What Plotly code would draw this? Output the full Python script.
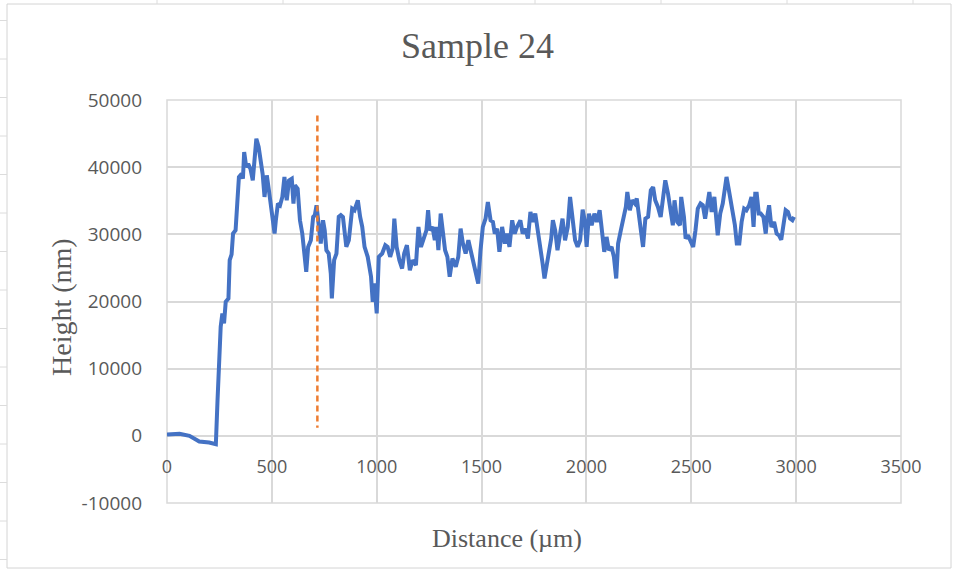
import plotly.graph_objects as go

# ---- data ----
distance_um = [0, 30, 60, 107, 154, 201, 233, 241, 256, 264, 272, 280, 293, 299, 308, 315, 327, 335, 343,
               356, 362, 368, 378, 387, 398, 409, 418, 426, 437, 445, 456, 465, 476, 487, 500, 513, 519,
               529, 539, 550, 560, 571, 582, 595, 603, 610, 623, 634, 645, 657, 664, 673, 686, 697, 705,
               713, 724, 733, 744, 752, 760, 771, 781, 786, 797, 808, 819, 829, 839, 855, 867, 883, 894,
               910, 921, 931, 942, 957, 973, 981, 989, 1000, 1010, 1026, 1041, 1052, 1064, 1076, 1084,
               1095, 1108, 1121, 1131, 1144, 1158, 1171, 1187, 1199, 1211, 1226, 1237, 1245, 1253, 1266,
               1277, 1286, 1294, 1305, 1316, 1326, 1337, 1348, 1361, 1377, 1389, 1400, 1411, 1424, 1437,
               1448, 1464, 1474, 1484, 1495, 1506, 1519, 1530, 1543, 1554, 1563, 1574, 1585, 1598, 1611,
               1622, 1633, 1646, 1658, 1669, 1685, 1696, 1709, 1721, 1733, 1745, 1756, 1769, 1780, 1791,
               1800, 1811, 1823, 1832, 1840, 1851, 1862, 1875, 1886, 1898, 1911, 1922, 1933, 1946, 1958,
               1970, 1982, 1993, 2001, 2012, 2025, 2038, 2050, 2063, 2072, 2085, 2096, 2107, 2120, 2131,
               2142, 2151, 2164, 2176, 2188, 2195, 2207, 2218, 2231, 2240, 2250, 2259, 2270, 2281, 2294,
               2307, 2318, 2328, 2341, 2354, 2365, 2376, 2389, 2401, 2412, 2420, 2433, 2446, 2452, 2465,
               2473, 2484, 2496, 2509, 2520, 2531, 2544, 2555, 2566, 2575, 2586, 2597, 2610, 2626, 2638,
               2650, 2658, 2668, 2678, 2689, 2700, 2708, 2717, 2729, 2740, 2752, 2763, 2776, 2787, 2797,
               2805, 2812, 2822, 2831, 2844, 2855, 2863, 2871, 2882, 2895, 2907, 2918, 2929, 2939, 2950,
               2961, 2971, 2982, 2990]
height_nm = [200, 250, 300, 0, -840, -1000, -1250, 5350, 16240, 18230, 16740, 19960, 20460, 26150, 27000,
             30120, 30600, 34580, 38540, 39030, 38280, 42250, 40000, 40500, 39750, 38030, 42500, 44230,
             43000, 41500, 39000, 35570, 38780, 36300, 33090, 30120, 32100, 34580, 34330, 35570, 38540,
             35080, 38030, 38280, 34580, 37290, 36800, 32100, 30120, 26150, 24420, 28130, 29120, 32600,
             32850, 34330, 31100, 28620, 32100, 30600, 27640, 27140, 24170, 20460, 26150, 27140, 32600,
             32850, 32590, 28130, 29130, 33830, 33590, 35070, 32590, 31100, 28130, 26650, 23680, 19960,
             22680, 18230, 26650, 27140, 28380, 28130, 26650, 27890, 32340, 28130, 26150, 24910, 27140,
             28380, 24660, 26150, 25420, 31100, 28130, 29610, 30600, 33590, 30600, 31100, 29120, 31100,
             27640, 33090, 29610, 27640, 26650, 23680, 26400, 25170, 26650, 30850, 28620, 27140, 29120,
             27640, 25660, 24170, 22680, 27640, 31100, 32340, 34820, 32090, 31840, 30100, 30850, 27390,
             31100, 28620, 30100, 28130, 32090, 30100, 31100, 32090, 30100, 30850, 29370, 33330, 31840,
             33090, 30600, 28130, 25660, 23430, 25420, 27640, 29370, 32090, 30600, 27640, 30600, 32340,
             29120, 31100, 35570, 32590, 29120, 28130, 29120, 33680, 31840, 28130, 33090, 31350, 33090,
             31840, 33590, 31100, 27390, 29610, 27640, 28130, 26650, 23430, 28620, 30600, 32590, 34080,
             36300, 33590, 35070, 34580, 35330, 32590, 30350, 28130, 32340, 32590, 36550, 37040, 35070,
             34080, 32590, 36050, 38040, 36050, 33590, 31350, 35070, 31840, 31350, 35570, 32590, 29370,
             29860, 29120, 28130, 30600, 33830, 34580, 34330, 32340, 34580, 36300, 33330, 35570, 29870,
             33090, 34580, 36550, 38540, 36800, 34580, 33330, 31350, 28620, 28620, 31840, 33830, 33590,
             34330, 35570, 31100, 36050, 36050, 33090, 33090, 32590, 30100, 32840, 34330, 31100, 31840,
             30100, 29860, 29200, 31600, 33590, 33330, 32340, 32090, 32590]
marker_x = [717, 717]
marker_y = [47700, 1200]

x_ticks = [0, 500, 1000, 1500, 2000, 2500, 3000, 3500]
x_tick_labels = ["0", "500", "1000", "1500", "2000", "2500", "3000", "3500"]
y_ticks = [-10000, 0, 10000, 20000, 30000, 40000, 50000]
y_tick_labels = ["-10000", "0", "10000", "20000", "30000", "40000", "50000"]

# ---- layout helpers (pixel -> paper) ----
W, H = 955, 572
L, R, T, B = 167, 54, 100, 69
PW, PH = W - L - R, H - T - B


def px(x):
    return (x - L) / PW


def py(y):
    return (H - B - y) / PH


GRID = "#d9d9d9"
TXT = "#595959"

fig = go.Figure()
fig.add_trace(go.Scatter(x=distance_um, y=height_nm, mode="lines",
                         line=dict(color="#4472C4", width=4), showlegend=False))
fig.add_trace(go.Scatter(x=marker_x, y=marker_y, mode="lines",
                         line=dict(color="#ED7D31", width=2.5, dash="6px,4px"), showlegend=False))

shapes = [dict(type="rect", xref="paper", yref="paper", x0=px(7), x1=px(951), y0=py(4), y1=py(568),
               line=dict(color="#d4d4d4", width=1), layer="below"),
          dict(type="rect", xref="paper", yref="paper", x0=0, x1=1, y0=0, y1=1,
               line=dict(color=GRID, width=1.5), layer="below")]
for cx in [157, 283, 409, 535, 661, 787, 913]:
    shapes.append(dict(type="line", xref="paper", yref="paper", x0=px(cx), x1=px(cx), y0=py(0), y1=py(4),
                       line=dict(color="#dcdcdc", width=1)))
for ry in [20.5, 59, 97.5, 136, 174.5, 213, 251.5, 290, 328.5, 367, 405.5, 444, 482.5, 521, 559.5]:
    shapes.append(dict(type="line", xref="paper", yref="paper", x0=px(0), x1=px(7), y0=py(ry), y1=py(ry),
                       line=dict(color="#dcdcdc", width=1)))

fig.update_layout(
    width=W, height=H,
    margin=dict(l=L, r=R, t=T, b=B),
    paper_bgcolor="white", plot_bgcolor="white",
    title=dict(text="Sample 24", x=0.5, xref="container", xanchor="center",
               y=1 - 45 / H, yref="container", yanchor="middle",
               font=dict(family="Liberation Serif", size=36, color=TXT)),
    xaxis=dict(range=[0, 3500], tickvals=x_ticks, ticktext=x_tick_labels,
               showgrid=True, gridcolor=GRID, gridwidth=1.5,
               zeroline=False, showline=False, anchor="free", position=1 / 6,
               ticks="", ticklabelstandoff=18,
               tickfont=dict(family="Open Sans", size=18, color=TXT)),
    yaxis=dict(range=[-10000, 50000], tickvals=y_ticks, ticktext=y_tick_labels,
               showgrid=True, gridcolor=GRID, gridwidth=1.5,
               zeroline=True, zerolinecolor=GRID, zerolinewidth=1.5, showline=False,
               ticks="", ticklabelstandoff=24,
               tickfont=dict(family="Open Sans", size=19, color=TXT)),
    annotations=[
        dict(text="Distance (µm)", xref="paper", yref="paper", x=px(507), y=py(538),
             xanchor="center", yanchor="middle", showarrow=False,
             font=dict(family="Liberation Serif", size=26, color=TXT)),
        dict(text="Height (nm)", xref="paper", yref="paper", x=px(61), y=py(307),
             xanchor="center", yanchor="middle", showarrow=False, textangle=-90,
             font=dict(family="Liberation Serif", size=28, color=TXT)),
    ],
    shapes=shapes,
)

fig.write_html("out.html", config={"displayModeBar": False},
               post_script="document.body.style.margin='0px';")
